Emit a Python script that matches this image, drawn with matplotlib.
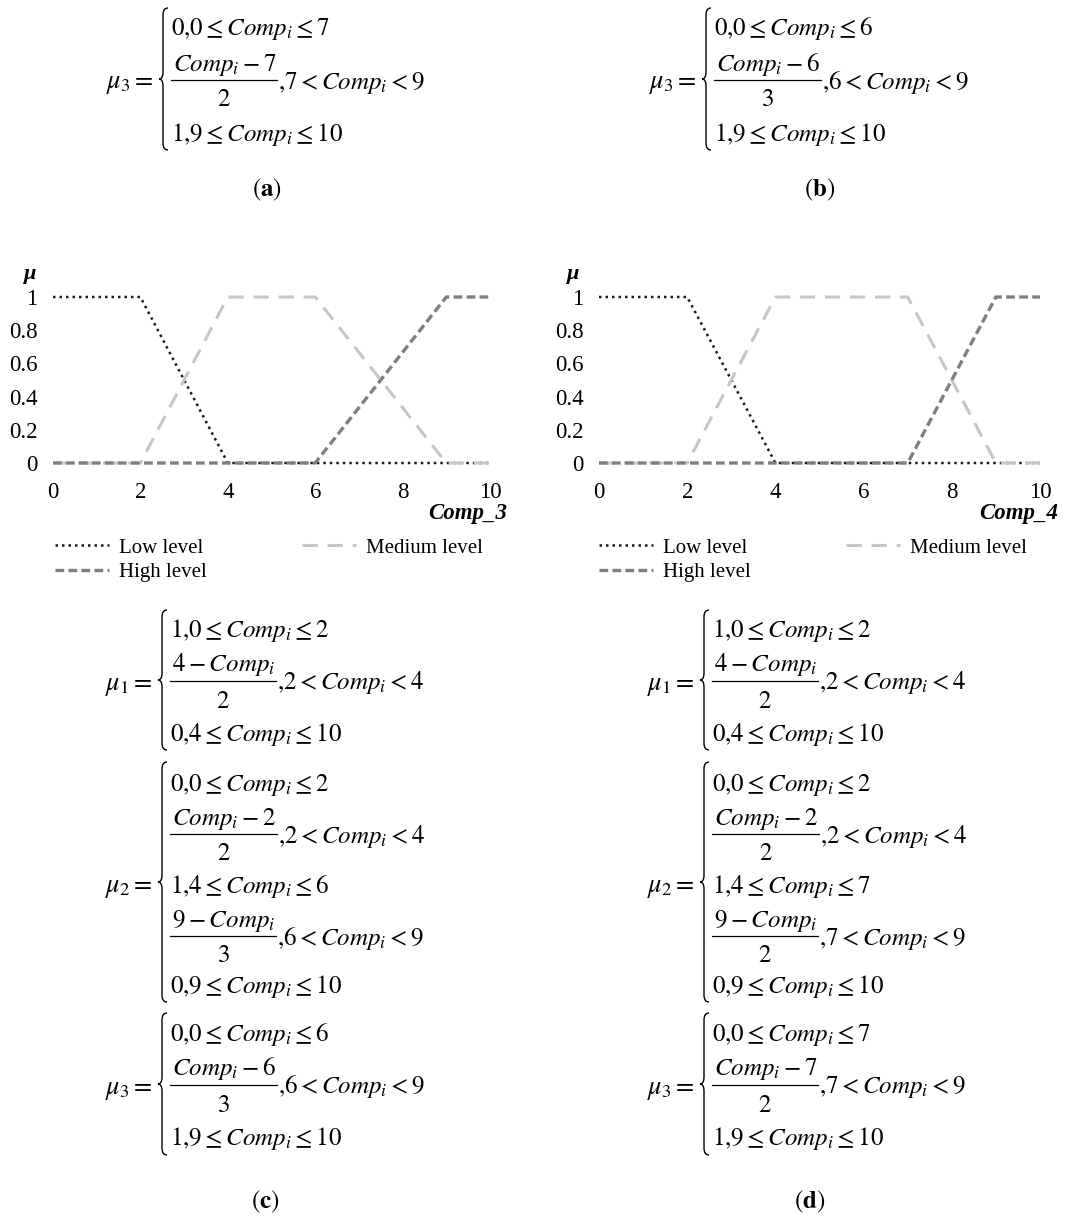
import matplotlib
matplotlib.use("Agg")
import matplotlib.pyplot as plt
from matplotlib.path import Path
from matplotlib.patches import PathPatch

plt.rcParams["mathtext.fontset"] = "stix"
plt.rcParams["font.family"] = ["Liberation Serif", "DejaVu Serif"]

W, H = 1073, 1216

# membership functions, breakpoints on Comp axis
x_ticks = [0, 2, 4, 6, 8, 10]
y_ticks = [0, 0.2, 0.4, 0.6, 0.8, 1]
y_tick_labels = ["0", "0.2", "0.4", "0.6", "0.8", "1"]

c_low_x = [0, 2, 4, 10]
c_low_y = [1, 1, 0, 0]
c_med_x = [0, 2, 4, 6, 9, 10]
c_med_y = [0, 0, 1, 1, 0, 0]
c_high_x = [0, 6, 9, 10]
c_high_y = [0, 0, 1, 1]

d_low_x = [0, 2, 4, 10]
d_low_y = [1, 1, 0, 0]
d_med_x = [0, 2, 4, 7, 9, 10]
d_med_y = [0, 0, 1, 1, 0, 0]
d_high_x = [0, 7, 9, 10]
d_high_y = [0, 0, 1, 1]

legend_labels = ["Low level", "High level", "Medium level"]

# piecewise definitions: plain rows are strings, fraction rows are (num, den, rest)
eq_a_mu3 = [r"0{,}0\leq Comp_i\leq 7", (r"Comp_i-7", "2", r"{,}7<Comp_i<9"), r"1{,}9\leq Comp_i\leq 10"]
eq_b_mu3 = [r"0{,}0\leq Comp_i\leq 6", (r"Comp_i-6", "3", r"{,}6<Comp_i<9"), r"1{,}9\leq Comp_i\leq 10"]

eq_c_mu1 = [r"1{,}0\leq Comp_i\leq 2", (r"4-Comp_i", "2", r"{,}2<Comp_i<4"), r"0{,}4\leq Comp_i\leq 10"]
eq_c_mu2 = [r"0{,}0\leq Comp_i\leq 2", (r"Comp_i-2", "2", r"{,}2<Comp_i<4"), r"1{,}4\leq Comp_i\leq 6",
            (r"9-Comp_i", "3", r"{,}6<Comp_i<9"), r"0{,}9\leq Comp_i\leq 10"]
eq_c_mu3 = [r"0{,}0\leq Comp_i\leq 6", (r"Comp_i-6", "3", r"{,}6<Comp_i<9"), r"1{,}9\leq Comp_i\leq 10"]

eq_d_mu1 = [r"1{,}0\leq Comp_i\leq 2", (r"4-Comp_i", "2", r"{,}2<Comp_i<4"), r"0{,}4\leq Comp_i\leq 10"]
eq_d_mu2 = [r"0{,}0\leq Comp_i\leq 2", (r"Comp_i-2", "2", r"{,}2<Comp_i<4"), r"1{,}4\leq Comp_i\leq 7",
            (r"9-Comp_i", "2", r"{,}7<Comp_i<9"), r"0{,}9\leq Comp_i\leq 10"]
eq_d_mu3 = [r"0{,}0\leq Comp_i\leq 7", (r"Comp_i-7", "2", r"{,}7<Comp_i<9"), r"1{,}9\leq Comp_i\leq 10"]

fig = plt.figure(figsize=(W / 100, H / 100), dpi=100)
fig.patch.set_facecolor("white")
renderer = fig.canvas.get_renderer()

EQ_FS = 18
BASE = 8.5


def fx(x):
    return x / W


def fy(y):
    return 1 - y / H


def draw_brace(bx, top, bot):
    mid = (top + bot) / 2
    pts = [(bx + 9, top), (bx + 4, top), (bx + 4, top + 7),
           (bx + 4, mid - 7),
           (bx + 4, mid), (bx, mid),
           (bx + 4, mid), (bx + 4, mid + 7),
           (bx + 4, bot - 7),
           (bx + 4, bot), (bx + 9, bot)]
    codes = [Path.MOVETO, Path.CURVE3, Path.CURVE3, Path.LINETO,
             Path.CURVE3, Path.CURVE3, Path.CURVE3, Path.CURVE3,
             Path.LINETO, Path.CURVE3, Path.CURVE3]
    verts = [(fx(a), fy(b)) for a, b in pts]
    fig.add_artist(PathPatch(Path(verts, codes), transform=fig.transFigure,
                             fill=False, lw=1.0, color="black"))


def draw_row(row, x0, y):
    if isinstance(row, str):
        fig.text(fx(x0), fy(y + BASE), "$" + row + "$", ha="left", va="baseline", fontsize=EQ_FS)
        return
    num, den, rest = row
    tn = fig.text(0, 0, "$" + num + "$", ha="left", va="baseline", fontsize=EQ_FS)
    td = fig.text(0, 0, "$" + den + "$", ha="left", va="baseline", fontsize=EQ_FS)
    wn = tn.get_window_extent(renderer).width
    wd = td.get_window_extent(renderer).width
    w = max(wn, wd) + 3
    tn.set_position((fx(x0 + (w - wn) / 2), fy(y - 18 + BASE)))
    td.set_position((fx(x0 + (w - wd) / 2), fy(y + 18 + BASE)))
    fig.add_artist(plt.Line2D([fx(x0), fx(x0 + w)], [fy(y), fy(y)], color="black",
                              lw=0.9, transform=fig.transFigure))
    fig.text(fx(x0 + w + 1), fy(y + BASE), "$" + rest + "$", ha="left", va="baseline",
             fontsize=EQ_FS)


def draw_cases(name, rows, x0, row_ys, brace, label_y):
    fig.text(fx(x0 - 17), fy(label_y + BASE), "$" + name + " =$", ha="right",
             va="baseline", fontsize=EQ_FS + 1)
    draw_brace(x0 - 12, brace[0], brace[1])
    for r, y in zip(rows, row_ys):
        draw_row(r, x0, y)


def draw_chart(rect, lx, ly, mx, my, hx, hy, comp_label, mu_x, xlab_right, leg_x):
    ax = fig.add_axes(rect)
    l1, = ax.plot(lx, ly, color="#1a1a1a", lw=1.8, linestyle=(0, (1, 1.6)), clip_on=False)
    l3, = ax.plot(mx, my, color="#c6c6c6", lw=2.2, linestyle=(0, (5, 3.2)), clip_on=False)
    l2, = ax.plot(hx, hy, color="#7f7f7f", lw=2.4, linestyle=(0, (2.6, 1.3)), clip_on=False)
    ax.set_xlim(0, 10)
    ax.set_ylim(0, 1)
    ax.set_xticks(x_ticks)
    ax.set_yticks(y_ticks)
    ax.set_yticklabels(y_tick_labels)
    ax.tick_params(length=0, labelsize=16.5)
    ax.tick_params(axis="y", pad=11)
    ax.tick_params(axis="x", pad=14)
    for s in ax.spines.values():
        s.set_visible(False)
    ax.patch.set_alpha(0)
    fig.text(fx(mu_x), fy(274), "μ", ha="center", va="center", fontsize=16,
             fontweight="bold", fontstyle="italic")
    fig.text(fx(xlab_right), fy(513), comp_label, ha="right", va="center", fontsize=16.5,
             fontweight="bold", fontstyle="italic")
    fig.legend([l1, l2, l3], legend_labels, ncol=2, loc="upper left",
               bbox_to_anchor=(fx(leg_x), fy(538)), frameon=False, fontsize=15,
               handlelength=2.6, handletextpad=0.45, columnspacing=4.6,
               labelspacing=0.25, borderpad=0, borderaxespad=0)
    return ax


draw_chart([fx(53), fy(463), 437 / W, 166 / H], c_low_x, c_low_y, c_med_x, c_med_y,
           c_high_x, c_high_y, "Comp_3", 30, 507, 55)
draw_chart([fx(599), fy(463), 441 / W, 166 / H], d_low_x, d_low_y, d_med_x, d_med_y,
           d_high_x, d_high_y, "Comp_4", 573, 1058, 599)

# top equations (a), (b)
draw_cases(r"\mu_3", eq_a_mu3, 171, [27, 80, 132], (8, 150), 80)
draw_cases(r"\mu_3", eq_b_mu3, 714, [27, 80, 132], (8, 150), 80)
fig.text(fx(267), fy(190), r"$(\mathbf{a})$", ha="center", va="center", fontsize=18)
fig.text(fx(820), fy(190), r"$(\mathbf{b})$", ha="center", va="center", fontsize=18)

# bottom equations (c), (d)
for x0, rows in [(170, (eq_c_mu1, eq_c_mu2, eq_c_mu3)), (712, (eq_d_mu1, eq_d_mu2, eq_d_mu3))]:
    draw_cases(r"\mu_1", rows[0], x0, [628, 681, 732], (610, 750), 681)
    draw_cases(r"\mu_2", rows[1], x0, [782, 834, 884, 936, 985], (762, 1002), 884)
    draw_cases(r"\mu_3", rows[2], x0, [1032, 1085, 1137], (1013, 1155), 1085)

fig.text(fx(265), fy(1202), r"$(\mathbf{c})$", ha="center", va="center", fontsize=18)
fig.text(fx(810), fy(1202), r"$(\mathbf{d})$", ha="center", va="center", fontsize=18)

plt.savefig("out.png", dpi=100, facecolor="white")
